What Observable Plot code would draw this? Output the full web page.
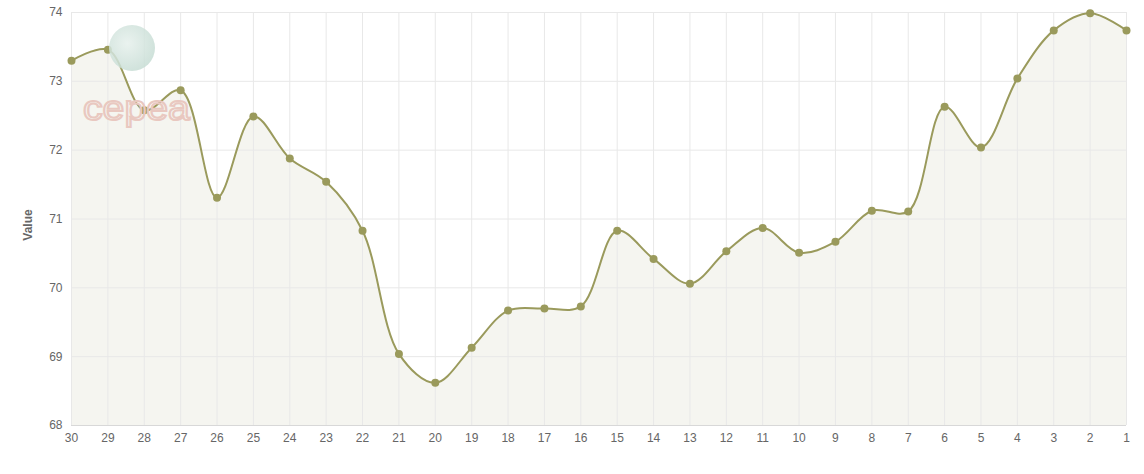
<!DOCTYPE html>
<html>
<head>
<meta charset="utf-8">
<script src="https://cdn.jsdelivr.net/npm/d3@7"></script>
<script src="https://cdn.jsdelivr.net/npm/@observablehq/plot@0.6"></script>
<style>
  html, body { margin: 0; padding: 0; background: #fff; }
  #wrap { position: relative; width: 1144px; }
  #caption { font-family: "Open Sans", sans-serif; font-size: 13px; color: #444; position: absolute; left: 12px; top: 457px; }
  #logo { position: absolute; left: 83px; top: 88px; font-family: "Liberation Sans", sans-serif; font-size: 35px; letter-spacing: 0px; transform: scaleX(1.12); transform-origin: left top; color: transparent; -webkit-text-stroke: 2px #e9c8c0; pointer-events: none; }
  #globe { position: absolute; left: 109px; top: 25px; width: 46px; height: 46px; border-radius: 50%; background: radial-gradient(circle at 40% 40%, #e6f0ec, #bcd6cc); opacity: 0.85; }
</style>
</head>
<body>
<div id="wrap">
  <div id="chart"></div>
  <div id="globe"></div>
  <div id="logo">cepea</div>
  <div id="caption">Source: Cepea</div>
</div>
<script>
const days = ["30","29","28","27","26","25","24","23","22","21","20","19","18","17","16","15","14","13","12","11","10","9","8","7","6","5","4","3","2","1"];
const values = [73.30,73.46,72.58,72.87,71.31,72.49,71.88,71.54,70.83,69.04,68.62,69.13,69.67,69.70,69.73,70.83,70.42,70.06,70.53,70.87,70.51,70.67,71.12,71.11,72.63,72.04,73.04,73.74,73.99,73.74];
const yTicks = [68,69,70,71,72,73,74];

const data = days.map((d, i) => ({day: d, value: values[i]}));
const lineColor = "#9a9a5c";

const chart = Plot.plot({
  width: 1144,
  height: 450,
  marginTop: 12,
  marginBottom: 25,
  marginLeft: 71,
  marginRight: 18,
  style: { fontFamily: "'Liberation Sans', Arial, sans-serif", fontSize: "12px", color: "#666", background: "transparent" },
  x: { type: "point", domain: days, padding: 0, round: false, label: null },
  y: { domain: [yTicks[0], yTicks[yTicks.length - 1]], label: null },
  marks: [
    Plot.areaY(data, { x: "day", y1: yTicks[0], y2: "value", curve: "catmull-rom", fill: "#f5f5f0" }),
    Plot.gridX(days, { x: d => d, stroke: "#e8e8e8", strokeOpacity: 1, strokeWidth: 1 }),
    Plot.gridY(yTicks, { y: d => d, stroke: "#e8e8e8", strokeOpacity: 1, strokeWidth: 1 }),
    Plot.ruleY([yTicks[0]], { stroke: "#d8d8d8" }),
    Plot.axisX(days, { tickSize: 0, tickPadding: 8, fill: "#666", fontSize: 12, label: null }),
    Plot.axisY(yTicks, { tickSize: 0, tickPadding: 9, fill: "#666", fontSize: 12, label: null, tickFormat: d => String(d) }),
    Plot.lineY(data, { x: "day", y: "value", curve: "catmull-rom", stroke: lineColor, strokeWidth: 2 }),
    Plot.dot(data, { x: "day", y: "value", r: 4, fill: lineColor, stroke: "none" })
  ]
});

// y-axis title
const svg = d3.select(chart);
svg.append("text")
  .attr("transform", "translate(32,225) rotate(-90)")
  .attr("text-anchor", "middle")
  .attr("fill", "#666")
  .attr("font-size", 12)
  .attr("font-weight", "bold")
  .attr("font-family", "'Liberation Sans', Arial, sans-serif")
  .text("Value");

document.getElementById("chart").appendChild(chart);
</script>
</body>
</html>
